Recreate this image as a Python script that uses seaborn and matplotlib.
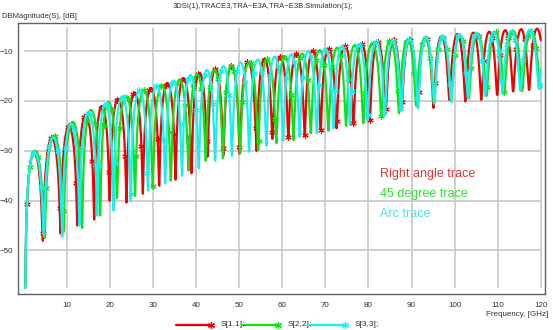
import numpy as np
import pandas as pd
import matplotlib
matplotlib.use("Agg")
import matplotlib.pyplot as plt
from matplotlib.lines import Line2D
import seaborn as sns

# ---- data: each trace is described lobe by lobe -------------------------
# null frequencies [GHz], null depths [dB], and the peak level [dB] of each lobe
s11_null_f = [0.3, 4.4, 8.5, 12.4, 16.3, 19.9, 23.8, 27.6, 31.4, 35.2, 38.9,
              42.6, 46.3, 50.1, 54.0, 57.7, 61.4, 65.2, 68.9, 72.6, 76.5,
              80.3, 84.0, 87.7, 91.4, 95.1, 98.8, 102.5, 106.2, 109.9, 113.6,
              117.3, 121.0]
s11_null_db = [-57.0, -48.0, -46.6, -45.0, -43.8, -40.0, -40.4, -38.6, -37.0,
               -35.8, -34.5, -31.2, -30.9, -30.6, -30.0, -27.6, -27.5, -27.0,
               -25.8, -25.5, -24.5, -23.8, -22.1, -21.8, -21.1, -21.4, -19.8,
               -20.1, -19.8, -18.8, -18.1, -17.8, -17.5]
s11_peak_db = [-30.3, -27.5, -25.1, -22.8, -21.0, -19.6, -18.3, -17.4, -16.4,
               -15.4, -14.4, -13.6, -12.9, -12.2, -11.6, -11.1, -10.5, -9.9,
               -9.5, -9.0, -8.6, -8.2, -7.8, -7.6, -7.3, -7.0, -6.6, -6.3,
               -6.1, -5.8, -5.6, -5.5]

s22_null_f = [0.3, 4.8, 9.2, 13.5, 17.7, 21.6, 25.8, 29.9, 34.1, 38.2, 42.2,
              46.2, 50.2, 54.4, 58.6, 62.6, 66.6, 70.7, 74.8, 78.8, 83.0,
              87.1, 91.1, 95.2, 99.2, 103.3, 107.4, 111.5, 115.7, 119.9, 124.0]
s22_null_db = [-57.5, -47.5, -46.3, -45.5, -43.0, -39.5, -39.0, -37.5, -36.0,
               -34.0, -32.0, -31.5, -30.5, -29.8, -28.5, -27.8, -26.5, -26.0,
               -25.0, -24.5, -23.0, -22.5, -21.0, -20.5, -20.0, -19.5, -19.0,
               -18.5, -18.0, -17.5, -17.0]
s22_peak_db = [-30.0, -27.0, -24.2, -21.8, -20.2, -19.0, -17.8, -16.8, -15.7,
               -14.6, -13.7, -12.9, -12.2, -11.6, -11.0, -10.5, -9.8, -9.3,
               -8.8, -8.4, -7.9, -7.6, -7.3, -7.1, -6.8, -6.5, -6.2, -6.0,
               -5.8, -5.6]

s33_null_f = [0.3, 4.6, 8.9, 12.9, 17.0, 20.8, 24.8, 28.8, 32.8, 36.7, 40.6,
              44.4, 48.3, 52.3, 56.3, 60.2, 64.0, 68.0, 71.9, 75.7, 79.8,
              83.8, 87.6, 91.5, 95.3, 99.2, 103.1, 107.1, 111.1, 115.3, 119.6,
              123.5]
s33_null_db = [-57.6, -47.0, -47.2, -45.0, -43.0, -42.0, -40.0, -38.0, -36.5,
               -35.0, -33.5, -32.0, -31.0, -30.2, -29.0, -28.0, -27.2, -26.5,
               -25.5, -24.8, -23.8, -23.0, -22.0, -21.5, -20.5, -20.2, -19.5,
               -19.0, -18.5, -18.0, -17.6, -17.0]
s33_peak_db = [-30.2, -27.3, -24.6, -22.2, -20.5, -19.2, -17.9, -16.9, -15.9,
               -14.8, -13.8, -13.0, -12.3, -11.7, -11.1, -10.6, -10.0, -9.5,
               -9.0, -8.6, -8.1, -7.8, -7.5, -7.2, -6.9, -6.6, -6.3, -6.1,
               -5.9, -5.7, -5.6]

trace_names = ["S[1,1];", "S[2,2];", "S[3,3];"]
trace_notes = ["Right angle trace", "45 degree trace", "Arc trace"]
x_ticks = [10, 20, 30, 40, 50, 60, 70, 80, 90, 100, 110, 120]
y_ticks = [-10, -20, -30, -40, -50]
f_stop = 120.0

colors = ["#f00000", "#12e012", "#18f0f0"]
note_colors = ["#e03434", "#2ee02e", "#38e6f2"]


def sweep(null_f, null_db, peak_db, f_end=f_stop, step=0.02):
    """Rebuild a swept |S| curve in dB, lobe by lobe, between its nulls."""
    fs, ys = [], []
    for i, pk in enumerate(peak_db):
        a, b = null_f[i], null_f[i + 1]
        f = np.arange(a, b, step)
        f = f[f <= f_end]
        if f.size == 0:
            break
        t = (f - a) / (b - a)
        fa, fb = 10 ** (null_db[i] / 10), 10 ** (null_db[i + 1] / 10)
        floor = fa * (1 - t) + fb * t
        swing = 10 ** (pk / 10) - 0.5 * (fa + fb)
        fs.append(f)
        ys.append(10 * np.log10(swing * np.sin(np.pi * t) ** 2 + floor))
    return pd.DataFrame({"freq": np.concatenate(fs), "db": np.concatenate(ys)})


traces = [sweep(s11_null_f, s11_null_db, s11_peak_db),
          sweep(s22_null_f, s22_null_db, s22_peak_db),
          sweep(s33_null_f, s33_null_db, s33_peak_db)]

# ---- figure ---------------------------------------------------------------
sns.set_style("white")
plt.rcParams["font.family"] = ["Liberation Sans Narrow", "Liberation Sans", "DejaVu Sans"]

W, H = 553, 330
fig = plt.figure(figsize=(W / 100, H / 100), dpi=100)
ax = fig.add_axes([17.5 / W, 1 - 294.3 / H, (545 - 17.5) / W, (294.3 - 22.7) / H])
ax.set_xlim(-1.5, 121.0)
ax.set_ylim(-58.8, -4.3)

grid_kw = dict(color="#c6c6c6", lw=1.2, zorder=0)
ax.vlines(x_ticks, -57.6, -5.3, **grid_kw)
ax.hlines(y_ticks, 0, 120, **grid_kw)

star = (6, 2, 0)
offsets = [20, 55, 90]
for df, c, off in zip(traces, colors, offsets):
    sns.lineplot(data=df, x="freq", y="db", ax=ax, color=c, linewidth=1.6,
                 estimator=None, sort=False, legend=False,
                 marker=star, markersize=4.5, markeredgewidth=0.8,
                 markeredgecolor=c, markevery=(off, 95))

for k, (txt, c) in enumerate(zip(trace_notes, note_colors)):
    ax.text(82.7, -34.7 - 4.0 * k, txt, color=c, fontsize=9,
            family=["Liberation Sans", "DejaVu Sans"], ha="left", va="center")

ax.set_xticks(x_ticks)
ax.set_yticks(y_ticks)
ax.set_xlabel("")
ax.set_ylabel("")
ax.tick_params(axis="both", direction="inout", length=5, width=0.8,
               color="#505050", labelsize=5.8, labelcolor="#303030")
ax.tick_params(axis="x", pad=3.0)
ax.tick_params(axis="y", pad=1.0)
for sp in ax.spines.values():
    sp.set_visible(True)
    sp.set_color("#606060")
    sp.set_linewidth(1.0)

fig.text(263 / W, 1 - 7 / H, "3DSI(1),TRACE3,TRA~E3A,TRA~E3B.Simulation(1);",
         ha="center", va="center", fontsize=5.5, color="#303030")
fig.text(2 / W, 1 - 17 / H, "DBMagnitude(S), [dB]",
         ha="left", va="center", fontsize=5.5, color="#303030")
fig.text(548 / W, 1 - 314.3 / H, "Frequency, [GHz]",
         ha="right", va="center", fontsize=5.8, color="#303030")

# legend row under the plot: line with a star at its end, then the name
legend_x = [176, 243, 310]
text_x = [221, 288, 355]
ly = 1 - 324.7 / H
for x0, tx, c, name in zip(legend_x, text_x, colors, trace_names):
    fig.add_artist(Line2D([x0 / W, (x0 + 35) / W], [ly, ly], color=c, lw=1.6,
                          marker=star, markersize=5, markeredgewidth=0.9,
                          markeredgecolor=c, markevery=[1],
                          transform=fig.transFigure))
    fig.text(tx / W, ly, name, ha="left", va="center", fontsize=6, color="#303030")

fig.savefig("out.png", dpi=100)
